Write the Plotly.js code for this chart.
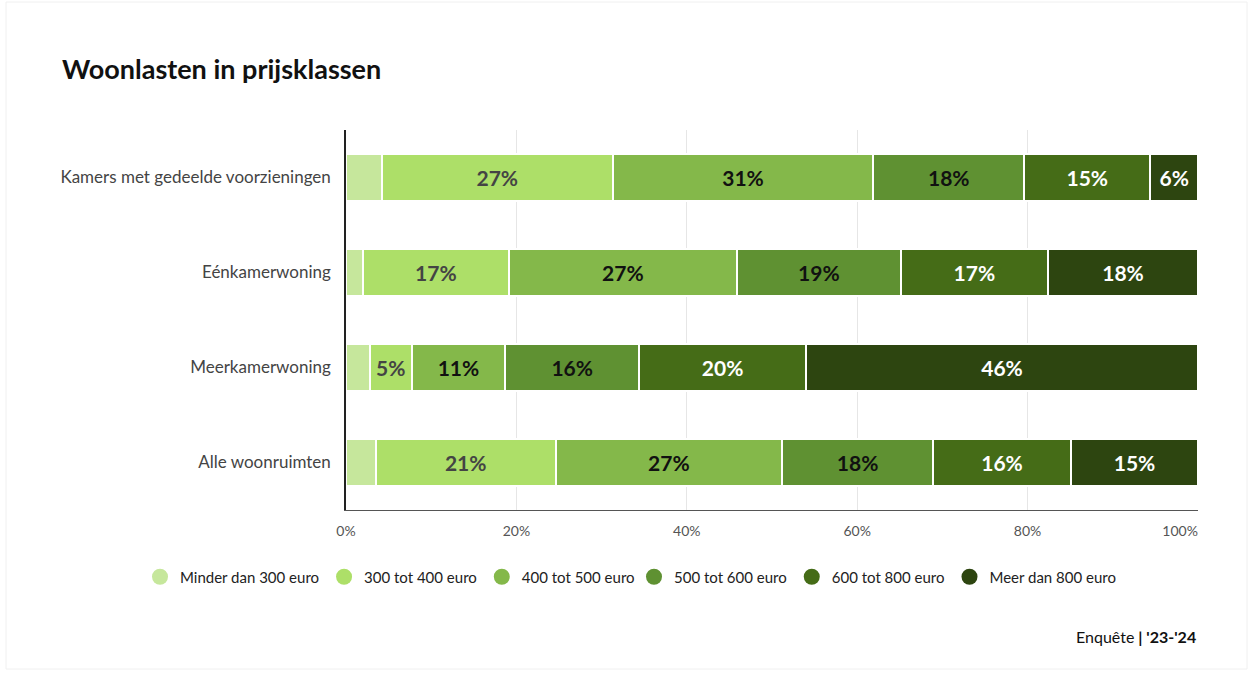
<!DOCTYPE html>
<html>
<head>
<meta charset="utf-8">
<script src="https://cdn.plot.ly/plotly-3.0.1.min.js"></script>
<style>
  html, body { margin: 0; padding: 0; background: #ffffff; }
  #chart { width: 1253px; height: 673px; }
</style>
</head>
<body>
<div id="chart"></div>
<script>
// Categories (top to bottom)
const categories = ["Kamers met gedeelde voorzieningen", "Eénkamerwoning", "Meerkamerwoning", "Alle woonruimten"];
const seriesNames = ["Minder dan 300 euro", "300 tot 400 euro", "400 tot 500 euro", "500 tot 600 euro", "600 tot 800 euro", "Meer dan 800 euro"];

// Values in %, per category order above
const minder300 = [4.2, 2.0, 2.8, 3.5];
const t300_400  = [27.1, 17.1, 4.9, 21.1];
const t400_500  = [30.6, 26.8, 11.0, 26.6];
const t500_600  = [17.7, 19.2, 15.7, 17.7];
const t600_800  = [14.8, 17.3, 19.6, 16.2];
const meer800   = [5.6, 17.6, 46.0, 14.9];

const xTickVals = [0, 20, 40, 60, 80, 100];
const xTickText = ["0%", "20%", "40%", "60%", "80%", "100%"];

const seriesValues = [minder300, t300_400, t400_500, t500_600, t600_800, meer800];
const colors = ["#c6e79c", "#addf68", "#84b84a", "#5f9132", "#456c17", "#2d4510"];
const textColors = ["#444444", "#444444", "#111111", "#111111", "#ffffff", "#ffffff"];

const font = "Lato, 'Source Sans Pro', 'Noto Sans', sans-serif";

const traces = [];
seriesValues.forEach((vals, i) => {
  traces.push({
    type: "bar",
    orientation: "h",
    name: seriesNames[i],
    y: categories,
    x: vals,
    marker: { color: colors[i], line: { color: "#ffffff", width: 2 } },
    text: vals.map(v => v >= 4.5 ? Math.round(v) + "%" : ""),
    textposition: "inside",
    insidetextanchor: "middle",
    textangle: 0,
    constraintext: "none",
    textfont: { family: font, size: 21, color: textColors[i], weight: 700 },
    hoverinfo: "skip",
    showlegend: false
  });
});
// Legend-only circle markers, split across two legends so they sit on one line
seriesNames.forEach((n, i) => {
  traces.push({
    type: "scatter",
    mode: "markers",
    name: n,
    x: [null], y: [null],
    marker: { color: colors[i], size: 17, symbol: "circle" },
    showlegend: true,
    legend: i < 3 ? "legend" : "legend2",
    hoverinfo: "skip"
  });
});

const legendBase = {
  orientation: "h",
  xref: "container",
  yref: "container",
  y: 1 - 577 / 673,
  yanchor: "middle",
  font: { family: font, size: 15, color: "#222222" },
  itemwidth: 30,
  traceorder: "normal",
  tracegroupgap: 0,
  itemclick: false,
  itemdoubleclick: false,
  bgcolor: "rgba(0,0,0,0)"
};

// pad the last tick label so it stays inside the plot edge like the original
const tickTextShown = xTickText.map((t, i) => i === xTickText.length - 1 ? t + "\u00a0".repeat(10) : t);

const layout = {
  width: 1253,
  height: 673,
  paper_bgcolor: "#ffffff",
  plot_bgcolor: "#ffffff",
  barmode: "stack",
  bargap: 0.51,
  margin: { l: 346, r: 55, t: 130, b: 163 },
  font: { family: font, color: "#444444" },
  title: {
    text: "<b>Woonlasten in prijsklassen</b>",
    x: 62 / 1253, xanchor: "left", xref: "container",
    y: 1 - 70 / 673, yanchor: "middle", yref: "container",
    font: { family: font, size: 27, color: "#111111" }
  },
  xaxis: {
    range: [0, 100],
    tickvals: xTickVals,
    ticktext: tickTextShown,
    showgrid: true,
    gridcolor: "#e6e6e6",
    gridwidth: 1,
    zeroline: false,
    showline: true,
    linecolor: "#555555",
    linewidth: 1,
    ticks: "",
    ticklabelstandoff: 8,
    tickfont: { family: font, size: 14, color: "#555555" },
    fixedrange: true
  },
  yaxis: {
    categoryorder: "array",
    categoryarray: categories.slice().reverse(),
    autorange: true,
    showline: true,
    linecolor: "#222222",
    linewidth: 1.5,
    showgrid: false,
    ticks: "",
    ticklabelstandoff: 10,
    tickfont: { family: font, size: 17, color: "#444444" },
    fixedrange: true
  },
  legend: Object.assign({}, legendBase, { x: 640 / 1253, xanchor: "right" }),
  legend2: Object.assign({}, legendBase, { x: 634 / 1253, xanchor: "left" }),
  annotations: [
    {
      xref: "paper", yref: "paper",
      x: (1198 - 346) / (1253 - 401), y: -(636 - 510) / (510 - 130),
      xanchor: "right", yanchor: "middle",
      showarrow: false,
      text: "Enquête<b> | '23-'24</b>",
      font: { family: font, size: 16, color: "#111111" }
    }
  ],
  shapes: [
    {
      type: "rect", xref: "paper", yref: "paper",
      x0: -(346 - 6) / 852, x1: 1 + (1247 - 1198) / 852,
      y0: -(669 - 510) / 380, y1: 1 + (130 - 2) / 380,
      line: { color: "#f0f0f0", width: 1 },
      layer: "below"
    }
  ]
};

Plotly.newPlot("chart", traces, layout, { displayModeBar: false });
</script>
</body>
</html>
